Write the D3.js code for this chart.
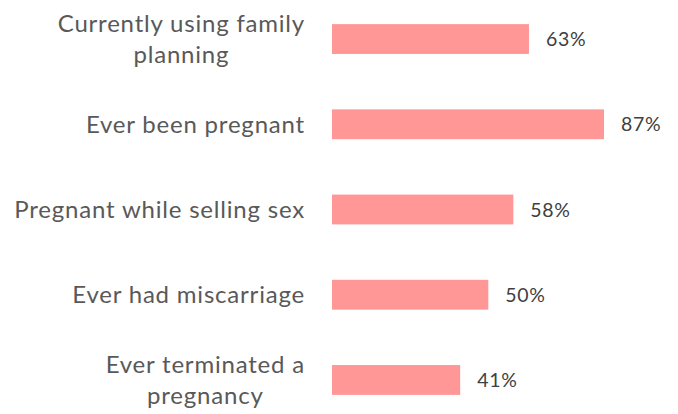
<!DOCTYPE html>
<html><head><meta charset="utf-8">
<script src="https://cdn.jsdelivr.net/npm/d3@7"></script>
<style>body{margin:0;background:#fff}</style>
</head><body>
<svg id="c" width="678" height="414"></svg>
<script>
const categories = [
  ["Currently using family", "planning"],
  ["Ever been pregnant"],
  ["Pregnant while selling sex"],
  ["Ever had miscarriage"],
  ["Ever terminated a", "pregnancy"]
];
const values = [63, 87, 58, 50, 41];
const valueLabels = ["63%", "87%", "58%", "50%", "41%"];

const svg = d3.select("#c");
const idx = d3.range(values.length);
const y = d3.scaleBand().domain(idx).range([-4, 423]).paddingInner(0.65).paddingOuter(0.33);
const x = d3.scaleLinear().domain([0, 87]).range([332, 604]);
const font = "Lato, sans-serif";

svg.selectAll("rect.bar").data(idx).join("rect")
  .attr("class", "bar")
  .attr("x", x(0))
  .attr("y", i => y(i))
  .attr("width", i => x(values[i]) - x(0))
  .attr("height", y.bandwidth())
  .attr("fill", "#FF9797");

svg.selectAll("text.val").data(idx).join("text")
  .attr("class", "val")
  .attr("x", i => x(values[i]) + 17)
  .attr("y", i => y(i) + y.bandwidth() / 2)
  .attr("dy", "0.36em")
  .attr("font-family", font)
  .attr("font-size", 19.5)
  .attr("letter-spacing", 0.7)
  .attr("fill", "#404040")
  .text(i => valueLabels[i]);

const labelRight = 305;
const lineH = 31;
idx.forEach(i => {
  const lines = categories[i];
  const cy = y(i) + y.bandwidth() / 2;
  const g = svg.append("g");
  const ts = lines.map((l, k) => g.append("text")
    .attr("font-family", font)
    .attr("font-size", 24)
    .attr("letter-spacing", 0.8)
    .attr("fill", "#595959")
    .attr("text-anchor", "middle")
    .attr("y", cy + (k - (lines.length - 1) / 2) * lineH)
    .attr("dy", "0.36em")
    .text(l));
  const w = d3.max(ts, t => t.node().getComputedTextLength());
  ts.forEach(t => t.attr("x", labelRight - w / 2));
});
</script>
</body></html>
